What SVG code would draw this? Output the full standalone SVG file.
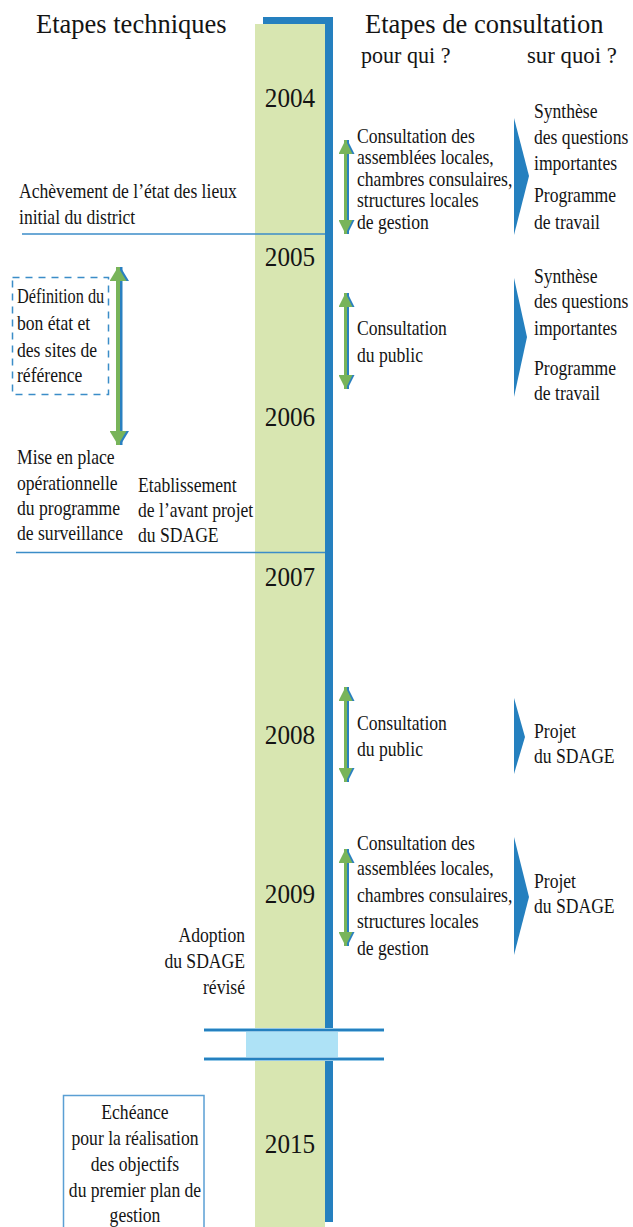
<svg xmlns="http://www.w3.org/2000/svg" width="633" height="1227" viewBox="0 0 633 1227">
<style>
.t{font-family:"Liberation Serif","Times New Roman",serif;font-size:22px;fill:#141414}
.s{font-size:20px}
.h{font-family:"Liberation Serif","Times New Roman",serif;font-size:26.5px;fill:#141414}
.q{font-family:"Liberation Serif","Times New Roman",serif;font-size:24px;fill:#141414}
.y{font-family:"Liberation Serif","Times New Roman",serif;font-size:28px;fill:#141414;text-anchor:middle}
.c{text-anchor:middle}
.e{text-anchor:end}
.hl{stroke:#3b8dc8;stroke-width:1.5;fill:none}
.ag{stroke:#78b45a;stroke-width:3;fill:none;marker-start:url(#hg);marker-end:url(#hg)}
.ab{stroke:#2a80c0;stroke-width:3;fill:none;marker-start:url(#hb);marker-end:url(#hb)}
.agl{stroke:#78b45a;stroke-width:4;fill:none;marker-start:url(#hgl);marker-end:url(#hgl)}
.abl{stroke:#2a80c0;stroke-width:4;fill:none;marker-start:url(#hbl);marker-end:url(#hbl)}
.tri{fill:#2580bf}
</style>
<defs>
<marker id="hg" markerUnits="userSpaceOnUse" markerWidth="15" markerHeight="14" refX="14" refY="7" orient="auto-start-reverse" viewBox="0 0 15 14"><path d="M0,0 L14,7 L0,14 z" fill="#78b45a"/></marker>
<marker id="hb" markerUnits="userSpaceOnUse" markerWidth="15" markerHeight="14" refX="14" refY="7" orient="auto-start-reverse" viewBox="0 0 15 14"><path d="M0,0 L14,7 L0,14 z" fill="#2a80c0"/></marker>
<marker id="hgl" markerUnits="userSpaceOnUse" markerWidth="15" markerHeight="17" refX="14" refY="8.5" orient="auto-start-reverse" viewBox="0 0 15 17"><path d="M0,0 L14,8.5 L0,17 z" fill="#78b45a"/></marker>
<marker id="hbl" markerUnits="userSpaceOnUse" markerWidth="15" markerHeight="17" refX="14" refY="8.5" orient="auto-start-reverse" viewBox="0 0 15 17"><path d="M0,0 L14,8.5 L0,17 z" fill="#2a80c0"/></marker>
</defs>

<g id="timeline">
<rect x="263" y="17" width="70" height="1205" fill="#2580bf"/>
<rect x="255" y="24" width="70" height="1210" fill="#d8e6b1"/>
</g>

<g id="break">
<rect x="200" y="1031" width="190" height="27" fill="#ffffff"/>
<rect x="246" y="1031.5" width="92" height="26" fill="#aee2f6"/>
<line x1="204" y1="1030" x2="384" y2="1030" stroke="#b9dff3" stroke-width="4"/>
<line x1="204" y1="1059" x2="384" y2="1059" stroke="#b9dff3" stroke-width="4"/>
<line x1="204" y1="1030" x2="384" y2="1030" stroke="#2580bf" stroke-width="2.4"/>
<line x1="204" y1="1059" x2="384" y2="1059" stroke="#2580bf" stroke-width="2.4"/>
</g>

<g id="headers">
<text class="h" transform="translate(36,33)">Etapes techniques</text>
<text class="h" transform="translate(365,33)">Etapes de consultation</text>
<text class="q" transform="translate(361,63) scale(0.92,1)">pour qui ?</text>
<text class="q" transform="translate(527,63) scale(0.95,1)">sur quoi ?</text>
</g>

<g id="years">
<text class="y" transform="translate(290,107) scale(0.9,1)">2004</text>
<text class="y" transform="translate(290,266) scale(0.9,1)">2005</text>
<text class="y" transform="translate(290,426) scale(0.9,1)">2006</text>
<text class="y" transform="translate(290,586) scale(0.9,1)">2007</text>
<text class="y" transform="translate(290,744) scale(0.9,1)">2008</text>
<text class="y" transform="translate(290,903) scale(0.9,1)">2009</text>
<text class="y" transform="translate(290,1153) scale(0.9,1)">2015</text>
</g>

<g id="lines">
<line class="hl" x1="22" y1="234" x2="325" y2="234"/>
<line class="hl" x1="16" y1="552.5" x2="325" y2="552.5"/>
</g>

<g id="etat-des-lieux">
<text class="t" transform="translate(19,0) scale(0.8,1)"><tspan x="0" y="198">Achèvement de l’état des lieux</tspan><tspan x="0" y="224">initial du district</tspan></text>
</g>

<g id="bon-etat">
<rect x="12.5" y="277.5" width="96" height="117" fill="none" stroke="#3b8dc8" stroke-width="1.5" stroke-dasharray="7,6"/>
<text class="t" transform="translate(17,303) scale(0.74,1)">Définition du</text>
<text class="t" transform="translate(17,0) scale(0.8,1)"><tspan x="0" y="330">bon état et</tspan><tspan x="0" y="357">des sites de</tspan><tspan x="0" y="382">référence</tspan></text>
</g>

<g id="surveillance">
<text class="t" transform="translate(17,0) scale(0.8,1)"><tspan x="0" y="464">Mise en place</tspan><tspan x="0" y="490">opérationnelle</tspan><tspan x="0" y="515">du programme</tspan><tspan x="0" y="540">de surveillance</tspan></text>
</g>

<g id="avant-projet">
<text class="t" transform="translate(138,0) scale(0.8,1)"><tspan x="0" y="492">Etablissement</tspan><tspan x="0" y="517">de l’avant projet</tspan><tspan x="0" y="542">du SDAGE</tspan></text>
</g>

<g id="consultation-2004">
<text class="t s" transform="translate(357,0) scale(0.88,1)"><tspan x="0" y="143">Consultation des</tspan><tspan x="0" y="164.5">assemblées locales,</tspan><tspan x="0" y="186">chambres consulaires,</tspan><tspan x="0" y="207.5">structures locales</tspan><tspan x="0" y="229">de gestion</tspan></text>
</g>

<g id="objet-2004">
<text class="t" transform="translate(534,0) scale(0.8,1)"><tspan x="0" y="118">Synthèse</tspan><tspan x="0" y="144">des questions</tspan><tspan x="0" y="170">importantes</tspan><tspan x="0" y="202">Programme</tspan><tspan x="0" y="229">de travail</tspan></text>
</g>

<g id="consultation-2005">
<text class="t" transform="translate(357,0) scale(0.8,1)"><tspan x="0" y="335">Consultation</tspan><tspan x="0" y="362">du public</tspan></text>
</g>

<g id="objet-2005">
<text class="t" transform="translate(534,0) scale(0.8,1)"><tspan x="0" y="283">Synthèse</tspan><tspan x="0" y="308">des questions</tspan><tspan x="0" y="335">importantes</tspan><tspan x="0" y="375">Programme</tspan><tspan x="0" y="400">de travail</tspan></text>
</g>

<g id="consultation-2008">
<text class="t" transform="translate(357,0) scale(0.8,1)"><tspan x="0" y="730">Consultation</tspan><tspan x="0" y="756">du public</tspan></text>
</g>

<g id="objet-2008">
<text class="t" transform="translate(534,0) scale(0.8,1)"><tspan x="0" y="738">Projet</tspan><tspan x="0" y="763">du SDAGE</tspan></text>
</g>

<g id="consultation-2009">
<text class="t" transform="translate(357,0) scale(0.8,1)"><tspan x="0" y="850">Consultation des</tspan><tspan x="0" y="875">assemblées locales,</tspan><tspan x="0" y="902">chambres consulaires,</tspan><tspan x="0" y="928">structures locales</tspan><tspan x="0" y="955">de gestion</tspan></text>
</g>

<g id="objet-2009">
<text class="t" transform="translate(534,0) scale(0.8,1)"><tspan x="0" y="888">Projet</tspan><tspan x="0" y="913">du SDAGE</tspan></text>
</g>

<g id="adoption">
<text class="t e" transform="translate(245,0) scale(0.8,1)"><tspan x="0" y="942">Adoption</tspan><tspan x="0" y="968">du SDAGE</tspan><tspan x="0" y="994">révisé</tspan></text>
</g>

<g id="echeance">
<rect x="63.5" y="1095.5" width="140.5" height="150" fill="none" stroke="#5a9fd4" stroke-width="1.5"/>
<text class="t c" transform="translate(135,0) scale(0.8,1)"><tspan x="0" y="1119">Echéance</tspan><tspan x="0" y="1145">pour la réalisation</tspan><tspan x="0" y="1171">des objectifs</tspan><tspan x="0" y="1197">du premier plan de</tspan><tspan x="0" y="1222">gestion</tspan></text>
</g>

<g id="connectors">
<line class="abl" x1="120.5" y1="267" x2="120.5" y2="445"/>
<line class="agl" x1="118" y1="267" x2="118" y2="445"/>
<line class="ab" x1="347.5" y1="140" x2="347.5" y2="234"/>
<line class="ag" x1="345.5" y1="140" x2="345.5" y2="234"/>
<line class="ab" x1="347.5" y1="293" x2="347.5" y2="389"/>
<line class="ag" x1="345.5" y1="293" x2="345.5" y2="389"/>
<line class="ab" x1="347.5" y1="687" x2="347.5" y2="782"/>
<line class="ag" x1="345.5" y1="687" x2="345.5" y2="782"/>
<line class="ab" x1="347.5" y1="849" x2="347.5" y2="946"/>
<line class="ag" x1="345.5" y1="849" x2="345.5" y2="946"/>
<polygon class="tri" points="514,118 529,176 514,235"/>
<polygon class="tri" points="514,278 527,337 514,397"/>
<polygon class="tri" points="514,698 525,737 514,774"/>
<polygon class="tri" points="514,837 529,897 514,955"/>
</g>
</svg>
